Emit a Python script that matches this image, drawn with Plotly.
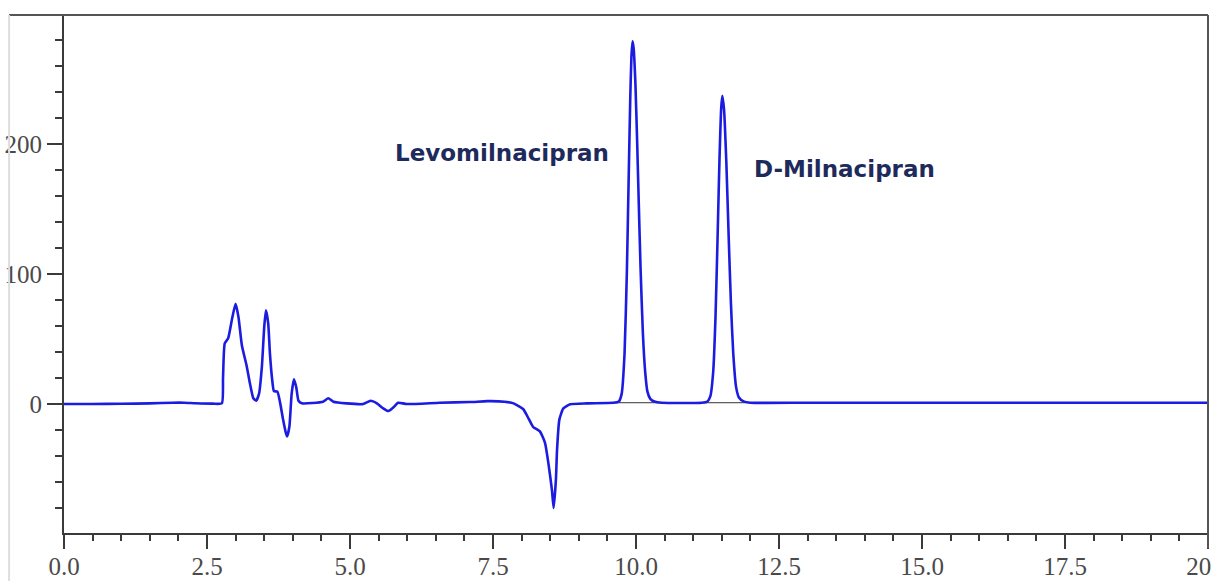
import plotly.graph_objects as go

# Retention time (min) and detector response
time_min = [
    0.00, 0.50, 1.00, 1.50, 1.90, 2.10, 2.30, 2.60, 2.76,
    2.78, 2.81, 2.87, 2.94, 3.00, 3.05, 3.11, 3.19, 3.25, 3.31, 3.36,
    3.41, 3.46, 3.50, 3.53, 3.57, 3.60, 3.64, 3.67, 3.73, 3.78,
    3.83, 3.88, 3.90, 3.94, 3.98, 4.02, 4.06, 4.10, 4.16,
    4.53, 4.62, 4.71, 4.94, 5.23, 5.36, 5.47, 5.58, 5.67, 5.76, 5.84,
    5.99, 6.57, 7.10, 7.40, 7.70, 7.86, 8.03, 8.12, 8.20, 8.32, 8.41,
    8.47, 8.53, 8.56, 8.60, 8.62, 8.66, 8.73, 8.85, 9.14,
    9.60, 9.70, 9.75, 9.80, 9.84, 9.87, 9.90, 9.92, 9.94, 9.96, 9.99,
    10.02, 10.05, 10.08, 10.12, 10.16, 10.20, 10.25, 10.32, 10.45,
    11.15, 11.25, 11.30, 11.35, 11.39, 11.43, 11.46, 11.49, 11.51,
    11.54, 11.58, 11.62, 11.66, 11.70, 11.75, 11.80, 11.88, 12.00,
    13.00, 15.00, 17.00, 19.00, 20.00,
]
response = [
    0.0, 0.0, 0.2, 0.5, 1.0, 1.0, 0.6, 0.3, 0.5,
    20.0, 46.7, 50.5, 66.0, 77.0, 67.0, 45.0, 30.0, 16.0, 4.4, 2.6,
    8.0, 29.0, 59.0, 72.0, 62.0, 39.0, 18.5, 10.0, 9.5, 0.5,
    -12.0, -22.5, -25.0, -17.5, 8.0, 19.0, 13.0, 2.5, 0.5,
    1.8, 4.4, 1.8, 0.5, 0.0, 2.5, 0.5, -3.3, -5.4, -2.5, 1.0,
    0.0, 1.0, 1.5, 2.2, 1.8, 0.5, -4.0, -11.0, -17.5, -21.0, -30.0,
    -46.0, -66.0, -80.0, -58.0, -35.0, -12.0, -3.3, -0.2, 0.5,
    1.0, 2.0, 8.0, 39.0, 101.0, 169.0, 236.0, 267.0, 279.0, 273.0, 246.0,
    202.0, 152.0, 104.0, 55.0, 25.0, 9.5, 4.0, 2.0, 1.0,
    1.0, 2.0, 6.0, 25.0, 67.0, 135.0, 189.0, 228.0, 237.0,
    226.0, 185.0, 129.0, 77.0, 39.0, 13.0, 5.0, 2.0, 1.0,
    1.0, 1.0, 1.0, 1.0, 1.0,
]

# Integration baseline under the two enantiomer peaks
baseline_time = [9.55, 12.20]
baseline_resp = [1.0, 1.0]

# Peak labels
peak_names = ["Levomilnacipran", "D-Milnacipran"]
label_time = [7.66, 13.65]
label_resp = [193.0, 181.0]

x_ticks = [0.0, 2.5, 5.0, 7.5, 10.0, 12.5, 15.0, 17.5, 20.0]
y_ticks = [0, 100, 200]

fig = go.Figure()
fig.add_trace(go.Scatter(
    x=baseline_time, y=baseline_resp, mode="lines",
    line=dict(color="#333333", width=1), hoverinfo="skip", showlegend=False,
))
fig.add_trace(go.Scatter(
    x=time_min, y=response, mode="lines",
    line=dict(color="rgb(28,28,225)", width=2.6, shape="spline", smoothing=0.5),
    showlegend=False,
))

for name, tx, ty in zip(peak_names, label_time, label_resp):
    fig.add_annotation(
        x=tx, y=ty, text=name, showarrow=False,
        xanchor="center", yanchor="middle",
        font=dict(family="DejaVu Sans", size=23, color="#1e2a5c", weight="bold"),
    )

tick_font = dict(family="Liberation Serif", size=25, color="#4a4a4a")

fig.update_xaxes(
    range=[0, 20], tickvals=x_ticks, ticktext=[f"{v:.1f}" for v in x_ticks],
    showline=True, linecolor="#3a3a3a", linewidth=2,
    ticks="outside", ticklen=14, tickwidth=2, tickcolor="#3a3a3a",
    minor=dict(dtick=0.5, tick0=0, ticks="outside", ticklen=6, tickwidth=2, tickcolor="#3a3a3a", showgrid=False),
    showgrid=False, zeroline=False, tickfont=tick_font,
    ticklabeloverflow="allow", ticklabelstandoff=-4,
)
fig.update_yaxes(
    range=[-99.2, 299.2], tickvals=y_ticks,
    showline=True, linecolor="#3a3a3a", linewidth=2,
    ticks="outside", ticklen=15, tickwidth=2, tickcolor="#3a3a3a",
    minor=dict(dtick=20, tick0=0, ticks="outside", ticklen=7, tickwidth=2, tickcolor="#3a3a3a", showgrid=False),
    showgrid=False, zeroline=False, tickfont=tick_font,
)

# frame lines: top and right of plot, light outer left edge
fig.add_shape(type="line", xref="paper", yref="paper", x0=-0.048, x1=1.0, y0=1, y1=1,
              line=dict(color="#555555", width=2))
fig.add_shape(type="line", xref="paper", yref="paper", x0=1.0, x1=1.0, y0=-0.03, y1=1,
              line=dict(color="#555555", width=2))
fig.add_shape(type="line", xref="paper", yref="paper", x0=-0.048, x1=-0.048, y0=-0.1, y1=1,
              line=dict(color="#dddddd", width=2))

fig.update_layout(
    width=1211, height=581,
    margin=dict(l=64, r=3, t=15, b=48, autoexpand=False),
    paper_bgcolor="white", plot_bgcolor="white",
    showlegend=False,
)

fig.write_html(
    "out.html",
    config={"displayModeBar": False},
    post_script="document.body.style.margin='0';document.body.style.overflow='hidden';",
)
